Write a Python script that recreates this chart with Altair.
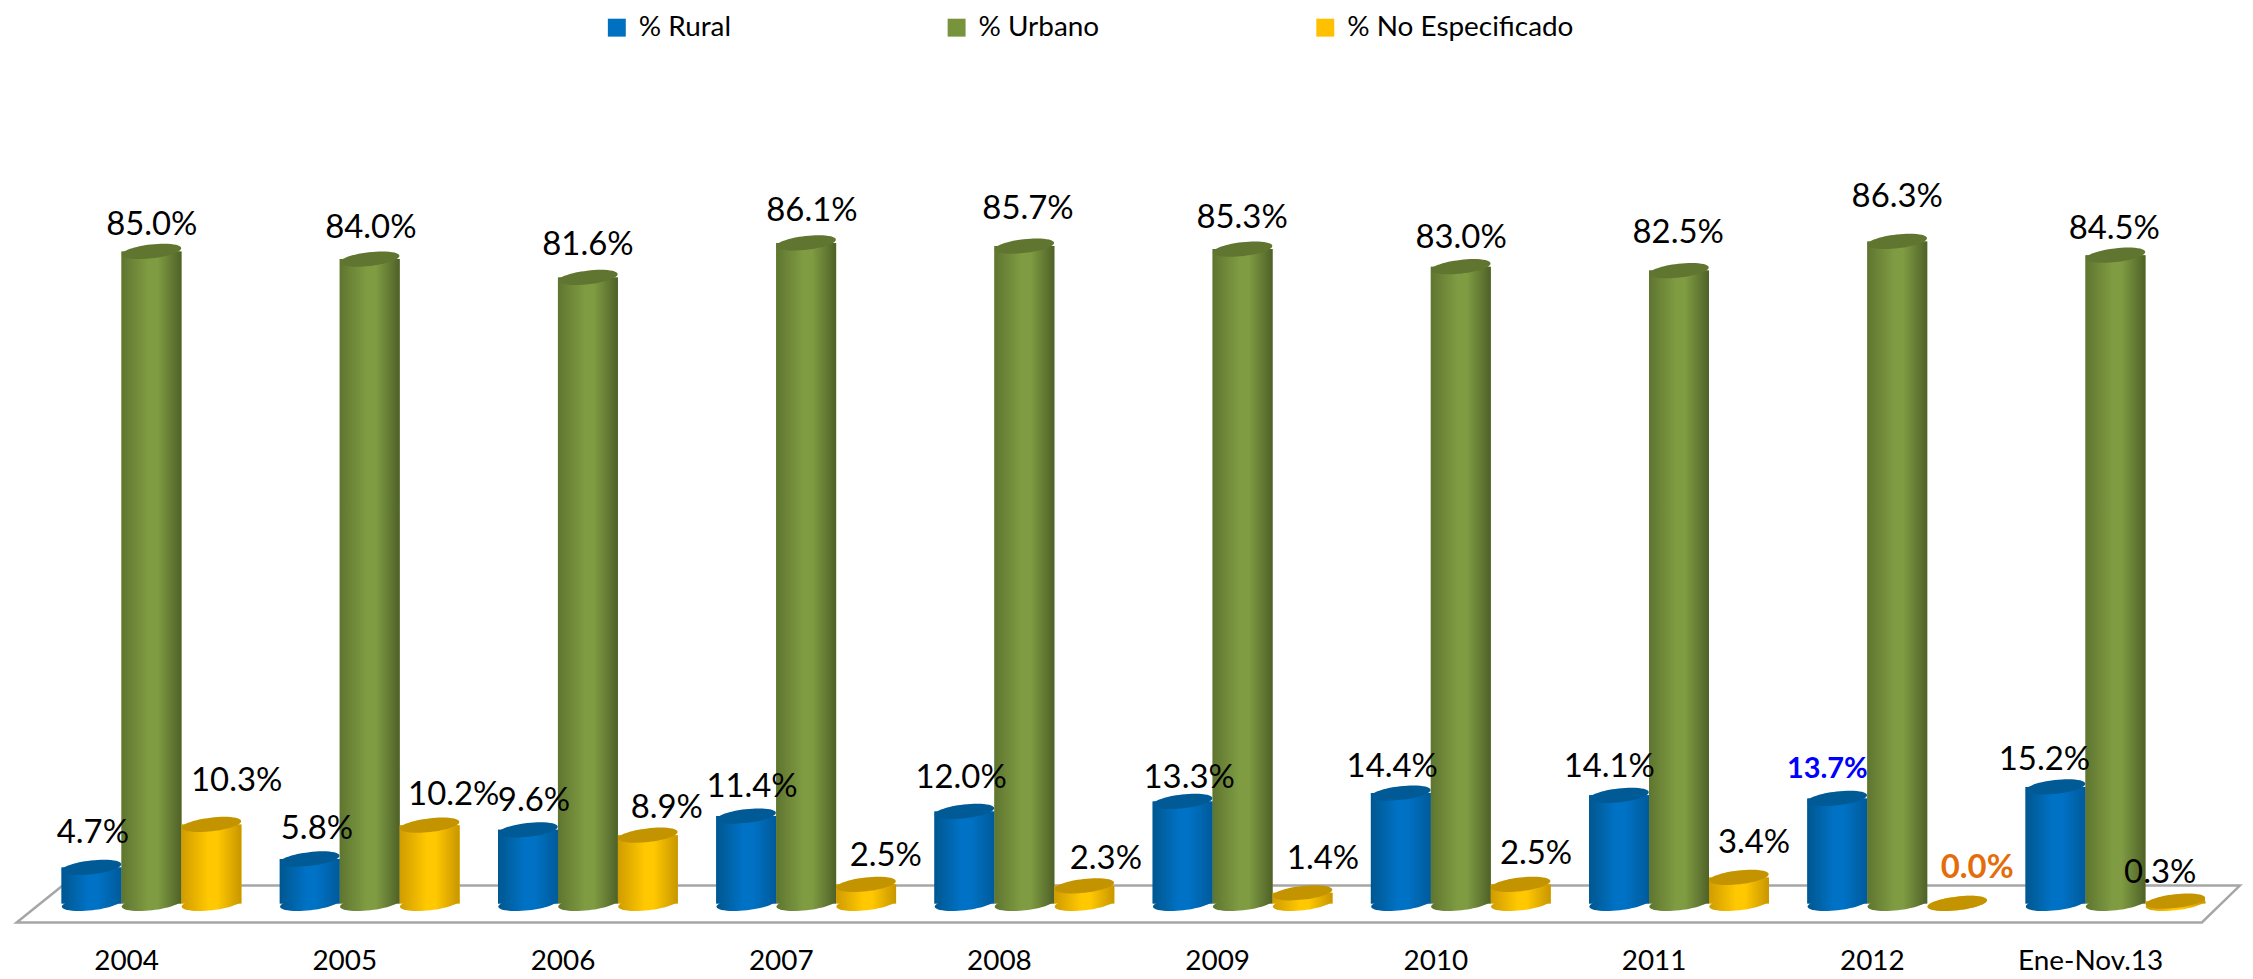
import altair as alt
import pandas as pd

periods = ["2004", "2005", "2006", "2007", "2008", "2009", "2010", "2011", "2012", "Ene-Nov.13"]
series = ["% Rural", "% Urbano", "% No Especificado"]
rural = [4.7, 5.8, 9.6, 11.4, 12.0, 13.3, 14.4, 14.1, 13.7, 15.2]
urbano = [85.0, 84.0, 81.6, 86.1, 85.7, 85.3, 83.0, 82.5, 86.3, 84.5]
no_esp = [10.3, 10.2, 8.9, 2.5, 2.3, 1.4, 2.5, 3.4, 0.0, 0.3]

# Hand placement of the data labels, relative to the top of their bar (px)
rural_dx = [2, 8, 7, 7, -2, 8, -7, -8, -8, -9]
rural_up = [35, 30, 29, 29, 34, 24, 26, 28, 29, 27]
urbano_dx = [1, 2, 1, 7, 5, 1, 2, 1, 2, 1]
urbano_up = [26, 31, 33, 32, 37, 31, 29, 38, 45, 26]
no_esp_dx = [26, 25, 20, 21, 23, 22, 17, 17, 22, -13]
no_esp_up = [44, 30, 27, 28, 27, 34, 30, 35, 36, 28]

# Floor outline, in group units and percent units
floor_x = [-0.407, -0.618, 9.396, 9.57, -0.407]
floor_y = [2.34, -2.47, -2.47, 2.34, 2.34]

STEP = 219
X_RANGE = [34.5, 34.5 + 10 * STEP]
PX_PER_PCT = 7.70
HEIGHT = 935
Y_DOMAIN = [-4.94, 116.5]
FONT = "Lato"

values = [rural, urbano, no_esp]
dxs = [rural_dx, urbano_dx, no_esp_dx]
ups = [rural_up, urbano_up, no_esp_up]
rows = []
for s, name in enumerate(series):
    for i, p in enumerate(periods):
        v = values[s][i]
        label_px = 151 + 218.4 * i + (s - 1) * 60 + dxs[s][i]
        rows.append({
            "period": p, "series": name, "value": v,
            "label": f"{v:.1f}%",
            "label_x": (label_px / 0.998 - 8 - 144) / STEP,
            "label_y": v + ups[s][i] / PX_PER_PCT,
        })
df = pd.DataFrame(rows)
floor_df = pd.DataFrame({"x": floor_x, "y": floor_y, "o": list(range(len(floor_x)))})

x_band = lambda axis=None: alt.X("period:N", sort=periods, axis=axis,
                                 scale=alt.Scale(type="band", domain=periods, range=X_RANGE,
                                                 paddingInner=0, paddingOuter=0, round=False))
x_off = alt.XOffset("series:N", sort=series,
                    scale=alt.Scale(type="band", domain=series, paddingInner=0, paddingOuter=0.32))
y_val = alt.Y("value:Q", axis=None, scale=alt.Scale(domain=Y_DOMAIN, zero=False, nice=False))
x_num = lambda f: alt.X(f, axis=None, scale=alt.Scale(domain=[-0.5, 9.5], range=X_RANGE, nice=False, zero=False))

ELLIPSE = "M-0.994,0.113A1,0.23,-6.5,1,1,0.994,-0.113A1,0.23,-6.5,1,1,-0.994,0.113Z"


def grad(edge_l, mid, edge_r):
    return alt.Gradient(
        gradient="linear", x1=0, x2=1, y1=0, y2=0,
        stops=[alt.GradientStop(color=edge_l, offset=0),
               alt.GradientStop(color=mid, offset=0.45),
               alt.GradientStop(color=mid, offset=0.6),
               alt.GradientStop(color=edge_r, offset=1)],
    )


styles = {
    "% Rural": (grad("#00578f", "#0072c6", "#005a9a"), "#005a96"),
    "% Urbano": (grad("#5f7530", "#7f9c42", "#4f6128"), "#5f7530"),
    "% No Especificado": (grad("#d09c00", "#ffc800", "#c89600"), "#c49400"),
}

floor = alt.Chart(floor_df).mark_line(color="#a6a6a6", strokeWidth=2.5).encode(
    x=x_num("x:Q"),
    y=alt.Y("y:Q", axis=None, scale=alt.Scale(domain=Y_DOMAIN, zero=False, nice=False)),
    order="o:Q",
)

base = alt.Chart(df).mark_bar().encode(
    x=x_band(alt.Axis(title=None, ticks=False, domain=False, labelAngle=0, labelFont=FONT,
                      labelFontSize=28, labelColor="black", labelOffset=-25, labelPadding=6)),
    xOffset=x_off,
    y=y_val,
    color=alt.Color("series:N", sort=series,
                    scale=alt.Scale(domain=series, range=["#0070c0", "#77933c", "#ffc000"]),
                    legend=alt.Legend(title=None, orient="none", legendX=597, legendY=4,
                                      direction="horizontal", columns=3, columnPadding=212,
                                      symbolType="square", symbolSize=324, symbolStrokeWidth=0,
                                      labelFont=FONT, labelFontSize=28, labelColor="black",
                                      labelOffset=8, labelLimit=500)),
)

layers = [floor, base]
for name in series:
    g, top = styles[name]
    sub = alt.Chart(df).transform_filter(alt.datum.series == name)
    layers.append(sub.transform_calculate(zero="0").mark_point(
        shape=ELLIPSE, size=3600, filled=True, opacity=1, fill=g, stroke=None).encode(
        x=x_band(), xOffset=x_off,
        y=alt.Y("zero:Q", axis=None, scale=alt.Scale(domain=Y_DOMAIN, zero=False, nice=False))))
    layers.append(sub.mark_bar(color=g).encode(x=x_band(), xOffset=x_off, y=y_val))
    layers.append(sub.mark_point(
        shape=ELLIPSE, size=3600, filled=True, opacity=1, fill=top, stroke=None).encode(
        x=x_band(), xOffset=x_off, y=y_val))

y_lab = alt.Y("label_y:Q", axis=None, scale=alt.Scale(domain=Y_DOMAIN, zero=False, nice=False))
plain = alt.Chart(df).transform_filter(
    "datum.label != '0.0%' && datum.label != '13.7%'"
).mark_text(font=FONT, fontSize=33, color="black", baseline="middle", align="center").encode(
    x=x_num("label_x:Q"), y=y_lab, text="label:N")
blue = alt.Chart(df).transform_filter("datum.label == '13.7%'").mark_text(
    font=FONT, fontSize=29, fontWeight="bold", color="#0000ff", baseline="middle", align="center"
).encode(x=x_num("label_x:Q"), y=y_lab, text="label:N")
orange = alt.Chart(df).transform_filter("datum.label == '0.0%'").mark_text(
    font=FONT, fontSize=33, fontWeight="bold", color="#e46c0a", baseline="middle", align="center"
).encode(x=x_num("label_x:Q"), y=y_lab, text="label:N")

chart = alt.layer(*layers, plain, blue, orange).resolve_scale(
    x="independent", xOffset="independent"
).properties(
    width=2237, height=HEIGHT, padding=0,
    background="white",
).configure_view(stroke=None)

chart.save("out.html", embed_options={"renderer": "svg", "actions": False})
